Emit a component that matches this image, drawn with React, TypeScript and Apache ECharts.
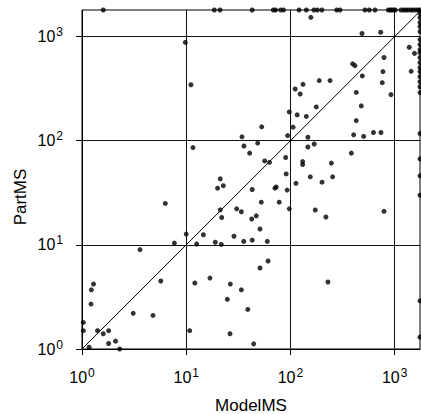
import React, { useEffect, useRef } from "react";
import * as echarts from "echarts";

// Paired measurements (ModelMS, PartMS)
const modelMS = [
  9.8, 11.1, 11.6, 21.2, 157, 486, 734, 1380, 1550, 790, 395, 416, 772, 1440, 489, 189, 240, 760, 132, 111,
  124, 428, 922, 177, 478, 97.5, 116, 142, 428, 53, 106, 404, 504, 626, 739, 94, 34.3, 147, 35.8, 48.5,
  40.6, 147, 169, 384, 56.6, 63, 90, 131, 131, 247, 91, 155, 254, 6.3, 20, 22.7, 21.2, 21.9, 30.5, 28.7,
  10, 7.7, 14.6, 12.6, 19, 21.7, 3.6, 5.7, 12.1, 16.9, 26.5, 24.8, 26.3, 10.8, 3.1, 4.8, 1.29, 1.23, 1.22, 1.03,
  1.03, 1.41, 1.6, 1.8, 1.8, 2.1, 1.17, 2.3, 43, 71, 73, 93, 113, 201, 52.5, 78, 33.8, 47, 42.5, 97.5,
  173, 219, 790, 51, 35.6, 43, 60, 61, 51, 229, 33.8, 39, 44.4,
];
const partMS = [
  880, 345, 86, 43, 1530, 1070, 1100, 790, 690, 630, 547, 526, 461, 464, 419, 378, 378, 361, 348, 314,
  281, 291, 277, 211, 216, 189, 177, 171, 156, 136, 135, 114, 110, 120, 120, 112, 109, 108, 89, 95,
  76, 87, 93, 76, 64, 62, 69, 63, 59, 61, 48, 45, 45, 25, 35, 37, 21.7, 18.3, 22.2, 12.1,
  12.7, 10.4, 12.5, 10.2, 10.6, 10.1, 9, 4.5, 4.3, 4.8, 4.2, 3.0, 1.4, 1.5, 2.2, 2.1, 4.2, 3.7, 2.7, 1.8,
  1.5, 1.5, 1.4, 1.5, 1.13, 1.19, 1.04, 1.0, 34, 35, 36, 33.6, 39, 40, 25.7, 25.7, 20.8, 19, 17.7, 22.2,
  21.6, 18.5, 21, 14.2, 10.8, 11.1, 10.8, 7.0, 6.0, 4.4, 3.7, 2.4, 1.12,
];

// Runs capped at the PartMS limit (plotted on the top edge): their ModelMS values
const PART_CAP = 1800;
const cappedPartModelMS = [
  1.6, 18.6, 21.1, 43, 68.5, 72, 80.6, 85.8, 121, 142, 168, 181, 200, 278, 299, 519, 571, 648,
  868, 908, 943, 979, 1014, 1150, 1221, 1285, 1352, 1435, 1509, 1601, 1686, 1750,
];

// Runs capped at the ModelMS limit (plotted on the right edge): their PartMS values
const MODEL_CAP = 1750;
const cappedModelPartMS = [
  1663, 1523, 1364, 1247, 1117, 936, 838, 750, 702, 628, 562, 503, 461, 412, 369, 330, 290, 117, 67,
  46, 30, 2.9, 1.3,
];

const tickValues = [1, 10, 100, 1000];
const diagonal = [
  [1, 1],
  [PART_CAP, PART_CAP],
];

const FONT = "Liberation Sans, Arial, Helvetica, sans-serif";

const labelFormatter = (v: number) => {
  const e = Math.round(Math.log10(v));
  if (Math.abs(Math.pow(10, e) - v) > 1e-6 * v) return "";
  return `{b|10}{s|${e}}`;
};

const rich = {
  b: { fontSize: 16, fontFamily: FONT, color: "#000", lineHeight: 18 },
  s: { fontSize: 12, fontFamily: FONT, color: "#000", padding: [0, 0, 9, 1], lineHeight: 12 },
};

export default function App() {
  const ref = useRef<HTMLDivElement>(null);
  useEffect(() => {
    if (!ref.current) return;
    const chart = echarts.init(ref.current, null, { renderer: "svg" });
    const points: number[][] = [];
    for (let i = 0; i < modelMS.length; i++) points.push([modelMS[i], partMS[i]]);
    for (const x of cappedPartModelMS) points.push([x, PART_CAP]);
    for (const y of cappedModelPartMS) points.push([MODEL_CAP, y]);

    const axisCommon = {
      type: "log" as const,
      logBase: 10,
      min: 1,
      axisLine: { show: true, lineStyle: { color: "#000", width: 1 } },
      axisTick: {
        show: true,
        inside: false,
        length: 6,
        customValues: tickValues,
        lineStyle: { color: "#000", width: 1 },
      },
      splitLine: { show: true, lineStyle: { color: "#111", width: 1 } },
      minorTick: { show: false },
      minorSplitLine: { show: false },
    };

    chart.setOption({
      animation: false,
      backgroundColor: "#fff",
      grid: {
        left: 82,
        right: 1,
        top: 10,
        bottom: 65,
        show: true,
        borderColor: "#000",
        borderWidth: 1,
      },
      xAxis: {
        ...axisCommon,
        max: MODEL_CAP,
        axisLabel: {
          margin: 19,
          customValues: tickValues,
          formatter: labelFormatter,
          rich,
        },
      },
      yAxis: {
        ...axisCommon,
        max: PART_CAP,
        axisLabel: {
          margin: 19,
          customValues: tickValues,
          formatter: labelFormatter,
          rich,
        },
      },
      graphic: [
        {
          type: "text",
          x: 251,
          y: 405,
          style: {
            text: "ModelMS",
            font: `17px ${FONT}`,
            fill: "#000",
            textAlign: "center",
            textVerticalAlign: "middle",
          },
        },
        {
          type: "text",
          x: 20,
          y: 197,
          rotation: Math.PI / 2,
          style: {
            text: "PartMS",
            font: `17px ${FONT}`,
            fill: "#000",
            textAlign: "center",
            textVerticalAlign: "middle",
          },
        },
      ],
      series: [
        {
          type: "line",
          data: diagonal,
          symbol: "none",
          clip: true,
          lineStyle: { color: "#000", width: 1 },
          z: 2,
          silent: true,
        },
        {
          type: "scatter",
          data: points,
          symbol: "circle",
          symbolSize: 5,
          clip: false,
          itemStyle: { color: "#000" },
          z: 3,
        },
      ],
    });
    return () => chart.dispose();
  }, []);
  return (
    <div
      ref={ref}
      style={{ position: "fixed", left: 0, top: 0, width: 421, height: 414, background: "#fff" }}
    />
  );
}
